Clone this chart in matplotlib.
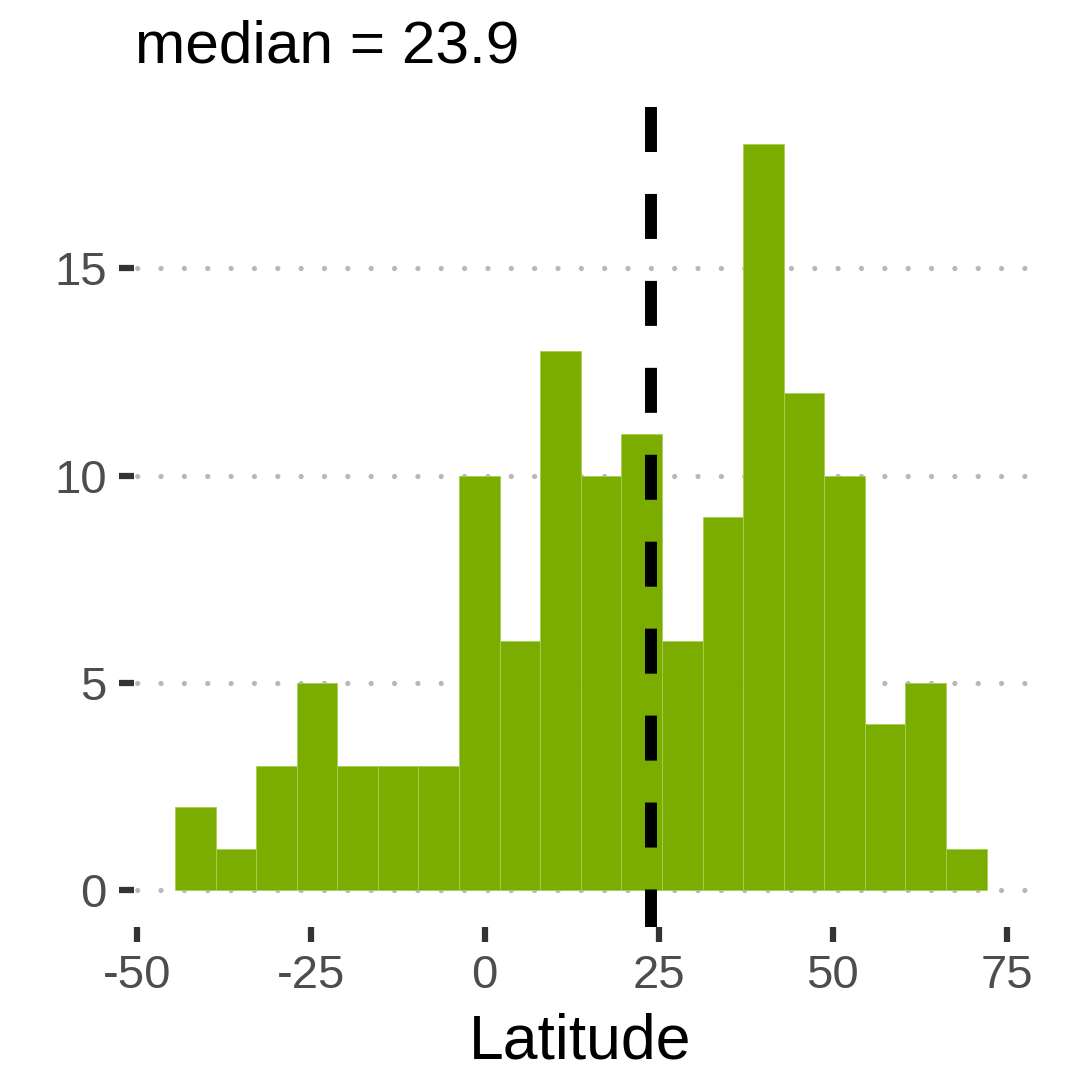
import matplotlib
matplotlib.use("Agg")
import matplotlib.pyplot as plt
import numpy as np

# histogram counts per latitude bin (20 bins, equal width)
counts = [2, 1, 3, 5, 3, 3, 3, 10, 6, 13, 10, 11, 6, 9, 18, 12, 10, 4, 5, 1]
first_edge = -44.5
bin_width = 5.832
median_lat = 23.9

x_ticks = [-50, -25, 0, 25, 50, 75]
y_ticks = [0, 5, 10, 15]

plt.rcParams["font.family"] = ["Liberation Sans", "DejaVu Sans"]
plt.rcParams["lines.scale_dashes"] = False

fig = plt.figure(figsize=(10.72, 10.71), dpi=100)
ax = fig.add_axes([0.12463, 0.13417, 0.83405, 0.76629])

lefts = first_edge + bin_width * np.arange(len(counts))
ax.bar(lefts, counts, width=bin_width, align="edge", color="#7AAD00",
       edgecolor="#A6CF55", linewidth=0.6, zorder=2)

# median marker, dash pattern running from the top of the panel
ax.plot([median_lat, median_lat], [1, 0], transform=ax.get_xaxis_transform(),
        color="black", linewidth=8.6, linestyle=(0, (32.4, 30.2)),
        dash_capstyle="butt", zorder=3)

ax.set_xlim(-50.44, 78.04)
ax.set_ylim(-0.9, 18.9)
ax.set_xticks(x_ticks)
ax.set_xticklabels([str(v) for v in x_ticks])
ax.set_yticks(y_ticks)

ax.set_axisbelow(True)
ax.grid(axis="y", color="#B8B8B8", linewidth=3.8,
        linestyle=(14.5, (0.01, 16.8)), dash_capstyle="round")
ax.grid(axis="x", visible=False)

for s in ax.spines.values():
    s.set_visible(False)

ax.tick_params(axis="both", direction="out", length=10.8, width=4.5,
               color="#333333", labelcolor="#4D4D4D", labelsize=34)
ax.tick_params(axis="x", pad=8.6)
ax.tick_params(axis="y", pad=8.5)

fig.text(0.1259, 0.9421, f"median = {median_lat}", fontsize=43.5,
         ha="left", va="baseline", color="black")
fig.text(0.5416, 0.0121, "Latitude", fontsize=45,
         ha="center", va="baseline", color="black")

fig.savefig("out.png", dpi=100, facecolor="white")
